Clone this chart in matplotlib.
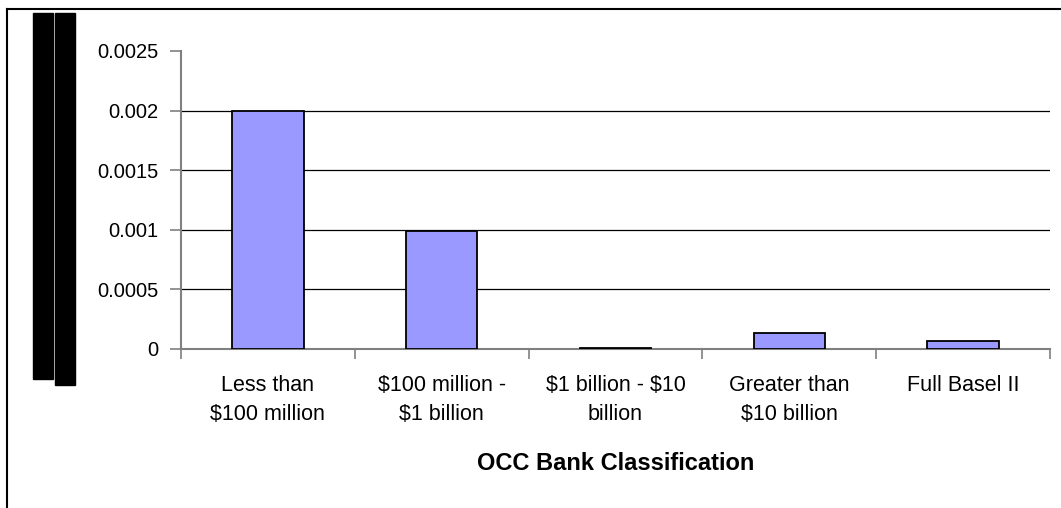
import matplotlib
matplotlib.use("Agg")
import matplotlib.pyplot as plt
from matplotlib.patches import Rectangle
from matplotlib.lines import Line2D

plt.rcParams['font.family'] = ['Liberation Sans', 'DejaVu Sans']

categories = ["Less than\n\\$100 million", "\\$100 million -\n\\$1 billion",
              "\\$1 billion - \\$10\nbillion", "Greater than\n\\$10 billion", "Full Basel II"]
values = [0.002, 0.00099, 0.00001, 0.000135, 0.000068]
yticks = [0, 0.0005, 0.001, 0.0015, 0.002, 0.0025]
ytick_labels = ["0", "0.0005", "0.001", "0.0015", "0.002", "0.0025"]
xlabel = "OCC Bank Classification"

W, H = 1061, 508
fig = plt.figure(figsize=(W / 100, H / 100), dpi=100)
ax = fig.add_axes([181 / W, (H - 349) / H, (1050 - 181) / W, (349 - 51) / H])

x = list(range(len(categories)))
ax.bar(x, values, width=0.41, color="#9999FF", edgecolor="black", linewidth=1.3, zorder=3)

ax.set_xlim(-0.5, len(categories) - 0.5)
ax.set_ylim(0, 0.0025)
for t in yticks[1:-1]:
    ax.axhline(t, color="black", linewidth=0.9, zorder=1)

ax.set_yticks(yticks)
ax.set_yticklabels(ytick_labels, fontsize=14.5)
ax.set_xticks([i - 0.5 for i in range(len(categories) + 1)], minor=False)
ax.set_xticklabels([])
ax.set_xticks(x, minor=True)
ax.set_xticklabels(categories, minor=True, fontsize=15.5, linespacing=1.45)
ax.tick_params(axis="x", which="minor", length=0, pad=19)
ax.tick_params(axis="x", which="major", length=7, color="#808080", width=1.2, direction="out")
ax.tick_params(axis="y", length=8, color="#808080", width=1.2, direction="out", pad=8)

for s in ["top", "right"]:
    ax.spines[s].set_visible(False)
for s in ["left", "bottom"]:
    ax.spines[s].set_color("#808080")
    ax.spines[s].set_linewidth(1.5)

ax.set_xlabel(xlabel, fontsize=17, fontweight="bold", labelpad=20)

# figure border (top and left)
fig.add_artist(Line2D([7 / W, 1], [1 - 8.5 / H, 1 - 8.5 / H], color="black", linewidth=1.5, transform=fig.transFigure))
fig.add_artist(Line2D([7 / W, 7 / W], [0, 1 - 8.5 / H], color="black", linewidth=1.5, transform=fig.transFigure))

# redaction boxes
fig.add_artist(Rectangle((33 / W, 1 - 379 / H), 20 / W, 366 / H, color="black", transform=fig.transFigure))
fig.add_artist(Rectangle((55 / W, 1 - 385 / H), 20 / W, 372 / H, color="black", transform=fig.transFigure))

fig.savefig("out.png", dpi=100, facecolor="white")
